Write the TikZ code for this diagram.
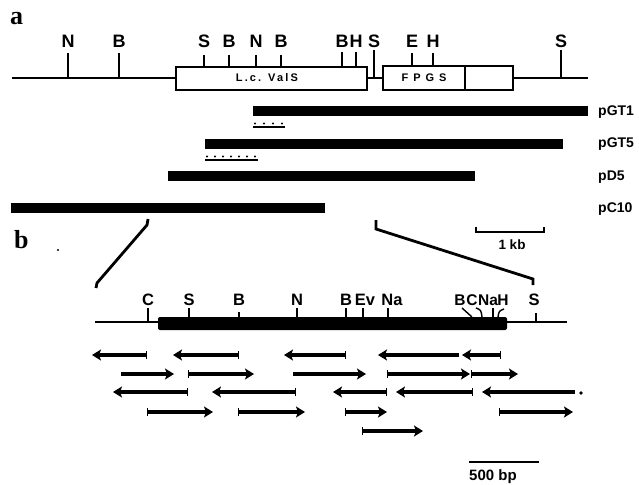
\documentclass[tikz,border=0pt]{standalone}
\usepackage{fontspec}
\setmainfont{Liberation Serif}
\setsansfont{Liberation Sans}
\newfontfamily\boxfontA{Liberation Sans}[LetterSpace=20]
\newfontfamily\boxfontB{Liberation Sans}[LetterSpace=45]
\usetikzlibrary{arrows.meta,calc}
\begin{document}
\begin{tikzpicture}[x=1pt,y=-1pt,
  sitea/.style={font=\sffamily\bfseries\fontsize{18}{18}\selectfont, inner sep=0pt, anchor=base},
  siteb/.style={font=\sffamily\bfseries\fontsize{16.5}{16.5}\selectfont, inner sep=0pt, anchor=base},
  sitec/.style={font=\sffamily\bfseries\fontsize{15.5}{15.5}\selectfont, inner sep=0pt, anchor=base},
  clonelbl/.style={font=\sffamily\bfseries\fontsize{14}{14}\selectfont, inner sep=0pt, anchor=base west},
  panel/.style={font=\rmfamily\bfseries\fontsize{26}{26}\selectfont, inner sep=0pt, anchor=base west},
  tickln/.style={line width=1.4pt},
  mapline/.style={line width=2.8pt},
  thinmap/.style={line width=2pt},
  genebox/.style={draw, fill=white, line width=2pt},
  clonebar/.style={line width=10pt},
  zoomln/.style={line width=2.8pt, line join=miter},
  scalebar/.style={line width=2pt},
  frag/.style={line width=3.5pt, {Bar[width=8pt,line width=1.4pt]}-{Stealth[length=9pt,width=11pt,inset=2pt]}},
  fragnb/.style={line width=3.5pt, -{Stealth[length=9pt,width=11pt,inset=2pt]}},
]
\useasboundingbox (0,0) rectangle (639,484);

% ---------- panel a ----------
\node[panel] (pa) at (10,25) {a};
\draw[mapline] (12,78) -- (588,78);
\node[genebox, minimum width=191pt, minimum height=23pt, anchor=north west, inner sep=0pt] (vals) at (175,66) {};
\node[font=\boxfontA\bfseries\fontsize{11}{11}\selectfont, inner sep=0pt] (valstxt) at (267,78) {L.\,c. ValS};
\node[genebox, minimum width=130pt, minimum height=24pt, anchor=north west, inner sep=0pt] (fpgs) at (382,65) {};
\draw[line width=1.5pt] (465,65) -- (465,89);
\node[font=\boxfontB\bfseries\fontsize{11}{11}\selectfont, inner sep=0pt] (fpgstxt) at (424,78) {FPGS};

% sites panel a: x / label / top / bottom
\foreach \x/\l/\ya/\yb [count=\i] in {68/N/53/77, 119/B/53/77, 204/S/55/66, 229/B/55/66, 256/N/55/66, 281/B/55/66, 342/B/52/66, 356/H/52/66, 374/S/50/78, 412/E/53/65, 433/H/53/65, 561/S/50/78}{
  \node[sitea] (sa\i) at (\x,48) {\l};
  \draw[tickln] (\x,\ya) -- (\x,\yb);
}

% clones
\draw[clonebar] (253,111.5) -- (588,111.5);
\node[clonelbl] (gt1) at (598,116) {pGT1};
\draw[line width=1.6pt] (253,127) -- (285,127);
\foreach \x in {255,264,273,282}{\fill (\x,123.5) circle (1.2pt);}
\draw[clonebar] (205,143.5) -- (563,143.5);
\node[clonelbl] (gt5) at (598,147) {pGT5};
\draw[line width=1.6pt] (205,160) -- (258,160);
\foreach \x in {207,215,223,231,239,247,255}{\fill (\x,156.5) circle (1.2pt);}
\draw[clonebar] (168,175.5) -- (475,175.5);
\node[clonelbl] (d5) at (598,180) {pD5};
\draw[clonebar] (11,207.5) -- (325,207.5);
\node[clonelbl] (c10) at (598,212) {pC10};

% 1 kb scale
\coordinate (kbL) at (476,232);
\coordinate (kbR) at (544,232);
\draw[scalebar] ($(kbL)+(0,-5)$) -- (kbL) -- (kbR) -- ($(kbR)+(0,-5)$);
\node[font=\sffamily\bfseries\fontsize{13.5}{13.5}\selectfont, inner sep=0pt] (kb) at (512,245) {1 kb};

% zoom lines
\coordinate (zl1) at (148,219);
\coordinate (zl2) at (147,225);
\coordinate (zl3) at (97,283);
\coordinate (zl4) at (96,288);
\draw[zoomln] (zl1) -- (zl2) -- (zl3) -- (zl4);
\coordinate (zr1) at (376,220);
\coordinate (zr2) at (376,229);
\coordinate (zr3) at (533,279);
\coordinate (zr4) at (533,285);
\draw[zoomln] (zr1) -- (zr2) -- (zr3) -- (zr4);

% ---------- panel b ----------
\node[panel] (pb) at (14,248) {b};
\fill (58,250) circle (1.1pt);
\draw[thinmap] (95,322) -- (567,322);
\fill[rounded corners=2pt] (158,317) rectangle (507,330);

\foreach \x/\l [count=\i] in {148/C, 189/S, 239/B, 297/N, 346/B, 365/Ev, 392/Na, 534/S}{
  \node[siteb] (sb\i) at (\x,305) {\l};
}
\foreach \x/\l [count=\i] in {460/B, 472/C, 488/Na, 503/H}{
  \node[sitec] (sc\i) at (\x,305) {\l};
}
\draw[tickln] (148,308) -- (148,322);
\draw[tickln] (189,308) -- (189,317);
\draw[tickln] (239,312) -- (239,317);
\draw[tickln] (297,308) -- (297,317);
\draw[tickln] (346,308) -- (346,317);
\draw[tickln] (363,308) -- (363,317);
\draw[tickln] (388,308) -- (388,317);
\draw[tickln] (462,308) -- (472,317);
\draw[tickln] (476,308) .. controls (481,310) .. (482,317);
\draw[tickln] (493,308) -- (493,317);
\draw[tickln] (504,309) .. controls (499,311) .. (498,317);
\draw[tickln] (536,313) -- (536,322);

% sequencing fragments
\foreach \a/\b/\y [count=\i] in {147/92/355, 239/173/355, 346/284/355, 501/462/355,
  188/254/374, 387/470/374, 471/518/374,
  188/113/392, 296/212/392, 387/333/392, 473/396/392,
  147/213/412, 238/305/412, 345/387/412, 499/573/412,
  362/423/431}{
  \coordinate (fa\i) at (\a,\y);
  \coordinate (fb\i) at (\b,\y);
  \draw[frag] (fa\i) -- (fb\i);
}
\foreach \a/\b/\y [count=\i] in {459/378/355, 121/174/374, 293/366/374, 575/482/392}{
  \coordinate (ga\i) at (\a,\y);
  \coordinate (gb\i) at (\b,\y);
  \draw[fragnb] (ga\i) -- (gb\i);
}
\fill (581,393) circle (1.8pt);

% 500 bp scale
\coordinate (bpL) at (469,462);
\coordinate (bpR) at (539,462);
\draw[scalebar] (bpL) -- (bpR);
\node[font=\sffamily\bfseries\fontsize{15}{15}\selectfont, inner sep=0pt, anchor=base west] (bp) at (469,480) {500 bp};
\end{tikzpicture}
\end{document}
